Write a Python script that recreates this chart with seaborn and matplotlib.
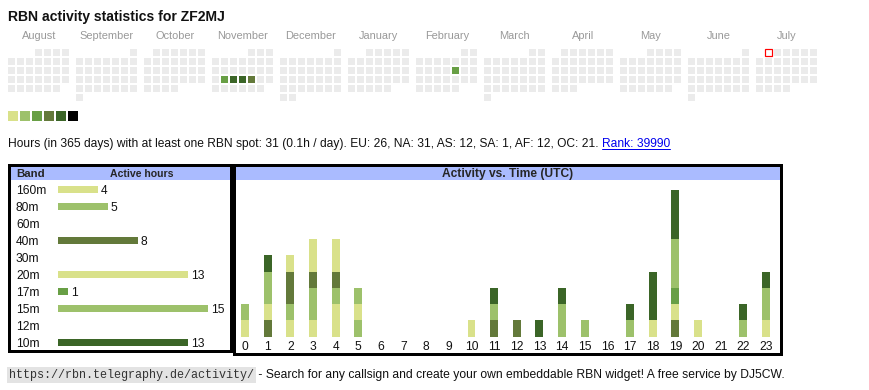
import numpy as np
import pandas as pd
import matplotlib
matplotlib.use("Agg")
import matplotlib.pyplot as plt
import seaborn as sns
from matplotlib.colors import ListedColormap
from matplotlib.patches import Rectangle

# ---------------- data ----------------
title = "RBN activity statistics for ZF2MJ"
month_names = ["August", "September", "October", "November", "December", "January",
               "February", "March", "April", "May", "June", "July"]
first_month = "2024-08-01"
active_dates = ["2024-11-19", "2024-11-20", "2024-11-21", "2024-11-22", "2025-02-14"]
active_levels = [3, 5, 5, 4, 3]
today = "2025-07-01"

level_colors = ["#ebebeb", "#d9e18a", "#9dc16b", "#689f45", "#63793a", "#3b6527", "#000000"]

bands = ["160m", "80m", "60m", "40m", "30m", "20m", "17m", "15m", "12m", "10m"]
band_hours = [4, 5, 0, 8, 0, 13, 1, 15, 0, 13]
band_colors = ["#d9e18a", "#9dc16b", "#689f45", "#63793a", "#d9e18a", "#d9e18a",
               "#689f45", "#9dc16b", "#689f45", "#3b6527"]

hours = list(range(24))
stack_bands = ["160m", "80m", "40m", "20m", "17m", "15m", "10m"]
hours_160m = [0, 0, 1, 1, 2, 0, 0, 0, 0, 0, 0, 0, 0, 0, 0, 0, 0, 0, 0, 0, 0, 0, 0, 0]
hours_80m = [0, 0, 1, 2, 1, 1, 0, 0, 0, 0, 0, 0, 0, 0, 0, 0, 0, 0, 0, 0, 0, 0, 0, 0]
hours_40m = [0, 1, 2, 1, 1, 0, 0, 0, 0, 0, 0, 1, 1, 0, 0, 0, 0, 0, 0, 1, 0, 0, 0, 0]
hours_20m = [1, 1, 1, 2, 2, 1, 0, 0, 0, 0, 1, 0, 0, 0, 0, 0, 0, 0, 1, 1, 1, 0, 0, 1]
hours_17m = [0, 0, 0, 0, 0, 0, 0, 0, 0, 0, 0, 0, 0, 0, 0, 0, 0, 0, 0, 1, 0, 0, 0, 0]
hours_15m = [1, 2, 0, 0, 0, 1, 0, 0, 0, 0, 0, 1, 0, 0, 2, 1, 0, 1, 0, 3, 0, 0, 1, 2]
hours_10m = [0, 1, 0, 0, 0, 0, 0, 0, 0, 0, 0, 1, 0, 1, 1, 0, 0, 1, 3, 3, 0, 0, 1, 1]

info_text = ("Hours (in 365 days) with at least one RBN spot: 31 (0.1h / day). "
             "EU: 26, NA: 31, AS: 12, SA: 1, AF: 12, OC: 21.")
rank_text = "Rank: 39990"
left_header = ["Band", "Active hours"]
right_header = "Activity vs. Time (UTC)"
footer_url = "https://rbn.telegraphy.de/activity/"
footer_text = " - Search for any callsign and create your own embeddable RBN widget! A free service by DJ5CW."

# ---------------- setup ----------------
sns.set_theme(style="white")
plt.rcParams['font.family'] = ['Liberation Sans', 'DejaVu Sans']

W, H, DPI = 870, 390, 100
PT = 72.0 / DPI


def fs(px):
    return px * PT


fig = plt.figure(figsize=(W / DPI, H / DPI), dpi=DPI)
fig.patch.set_facecolor("white")
bg = fig.add_axes([0, 0, 1, 1])
bg.set_xlim(0, W)
bg.set_ylim(H, 0)
bg.axis("off")


def add_ax(x0, y0, x1, y1):
    a = fig.add_axes([x0 / W, 1 - y1 / H, (x1 - x0) / W, (y1 - y0) / H])
    a.set_facecolor("none")
    return a


band_palette = dict(zip(bands, band_colors))
cmap = ListedColormap(level_colors)

# ---------------- title ----------------
bg.text(8, 20.5, title, fontsize=fs(14), fontweight="bold", va="baseline", color="#111111")

# ---------------- calendar ----------------
level_by_date = {pd.Timestamp(d): l for d, l in zip(active_dates, active_levels)}
month_starts = pd.date_range(first_month, periods=12, freq="MS")
today_ts = pd.Timestamp(today)
CELL = 9
for i, ms in enumerate(month_starts):
    days = pd.date_range(ms, ms + pd.offsets.MonthEnd(0))
    off = ms.weekday()
    mat = np.full((6, 7), np.nan)
    for d in days:
        mat[(d.day - 1 + off) // 7, d.weekday()] = level_by_date.get(d, 0)
    x0 = 7.3 + 68 * i
    ax = add_ax(x0, 48.3, x0 + 7 * CELL, 48.3 + 6 * CELL)
    sns.heatmap(mat, ax=ax, cmap=cmap, vmin=-0.5, vmax=len(level_colors) - 0.5, cbar=False,
                linewidths=2 * PT, linecolor="white", xticklabels=False, yticklabels=False)
    ax.set_facecolor("none")
    if today_ts.year == ms.year and today_ts.month == ms.month:
        r = (today_ts.day - 1 + off) // 7
        c = today_ts.weekday()
        ax.add_patch(Rectangle((c + 1 / CELL, r + 1 / CELL), 7 / CELL, 7 / CELL,
                               facecolor="white", edgecolor="#ff0000", lw=1.2 * PT,
                               clip_on=False, zorder=5))
    bg.text(x0 + 3.5 * CELL, 39, month_names[i], ha="center", va="baseline",
            fontsize=fs(11), color="#999999")

# legend squares
axleg = add_ax(7.3, 110, 7.3 + 12 * 6, 122)
sns.heatmap([list(range(1, 7))], ax=axleg, cmap=cmap, vmin=-0.5, vmax=len(level_colors) - 0.5,
            cbar=False, linewidths=2 * PT, linecolor="white", xticklabels=False, yticklabels=False)

# ---------------- info line ----------------
t_info = bg.text(8, 147, info_text, fontsize=fs(12), va="baseline", color="#111111")
fig.canvas.draw()
rend = fig.canvas.get_renderer()
bb = t_info.get_window_extent(rend)
rx0 = bb.x1 + 3.3
t_rank = bg.text(rx0, 147, rank_text, fontsize=fs(12), va="baseline", color="#0000ee")
fig.canvas.draw()
bbr = t_rank.get_window_extent(rend)
bg.plot([bbr.x0, bbr.x1], [149, 149], color="#0000ee", lw=1 * PT)

# ---------------- boxes ----------------
bg.add_patch(Rectangle((10, 165), 222, 15, facecolor="#aabbff", edgecolor="none"))
bg.add_patch(Rectangle((235, 165), 546, 15, facecolor="#aabbff", edgecolor="none"))
bg.add_patch(Rectangle((9.5, 164.5), 222, 186, fill=False, edgecolor="black", lw=3 * PT))
bg.add_patch(Rectangle((234.5, 164.5), 547, 189, fill=False, edgecolor="black", lw=3 * PT))
bg.text(16, 177, left_header[0], fontsize=fs(11.5), fontweight="bold", va="baseline")
bg.text(141.5, 177, left_header[1], fontsize=fs(10.5), fontweight="bold", va="baseline", ha="center")
bg.text(508, 177, right_header, fontsize=fs(12), fontweight="bold", va="baseline", ha="center")

# ---------------- band bars ----------------
axl = add_ax(58, 180.8, 230, 350.8)
df_b = pd.DataFrame({"band": bands, "hours": band_hours})
sns.barplot(data=df_b, x="hours", y="band", hue="band", palette=band_palette, order=bands,
            hue_order=bands, orient="h", width=0.4, legend=False, saturation=1,
            linewidth=0, errorbar=None, ax=axl)
axl.set_xlim(0, 17.2)
axl.set_ylim(len(bands) - 0.5, -0.5)
axl.set_xticks([])
axl.set_xlabel("")
axl.set_ylabel("")
axl.tick_params(axis="y", length=0, pad=42 * PT, labelsize=fs(12), labelcolor="#111111")
for lab in axl.get_yticklabels():
    lab.set_ha("left")
    lab.set_va("center_baseline")
for s in axl.spines.values():
    s.set_visible(False)
for p in axl.patches:
    w = p.get_width()
    if w > 0:
        axl.text(w + 0.3, p.get_y() + p.get_height() / 2, f"{int(w)}", va="center_baseline",
                 fontsize=fs(12), color="#111111")

# ---------------- hour stacked bars ----------------
stack = np.array([hours_160m, hours_80m, hours_40m, hours_20m, hours_17m, hours_15m, hours_10m])
cum = np.cumsum(stack, axis=0)
axr = add_ax(236, 181, 780, 336.7)
for k in reversed(range(len(stack_bands))):
    sns.barplot(x=hours, y=cum[k], color=band_palette[stack_bands[k]], width=0.353,
                saturation=1, linewidth=0, errorbar=None, ax=axr)
step = 22.65
axr.set_xlim((236 - 245) / step, (780 - 245) / step)
axr.set_ylim(0, (336.7 - 181) / 16.3)
axr.set_yticks([])
axr.set_xlabel("")
axr.set_ylabel("")
axr.tick_params(axis="x", length=0, pad=4.5 * PT, labelsize=fs(12), labelcolor="#111111")
for s in axr.spines.values():
    s.set_visible(False)

# ---------------- footer ----------------
t_url = bg.text(9, 378, footer_url, fontsize=fs(11.8), va="baseline", color="#333333",
                family=["Liberation Mono", "DejaVu Sans Mono"],
                bbox=dict(facecolor="#e3e3e3", edgecolor="none", pad=1.2))
fig.canvas.draw()
bbu = t_url.get_window_extent(rend)
t_foot = bg.text(bbu.x1 + 1, 378, footer_text, fontsize=fs(12), va="baseline", color="#111111",
                 family=["Liberation Sans Narrow", "Liberation Sans"])
fig.canvas.draw()
bbf = t_foot.get_window_extent(rend)
target = 783 - (bbu.x1 + 1)
t_foot.set_fontsize(fs(12) * target / bbf.width)

fig.savefig("out.png", dpi=DPI, facecolor="white")
